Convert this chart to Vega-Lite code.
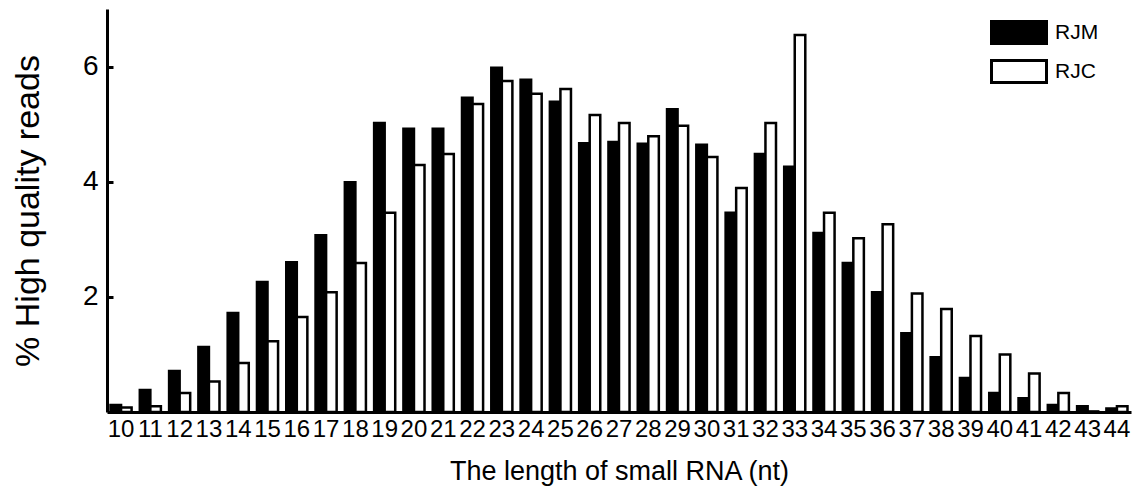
{
  "$schema": "https://vega.github.io/schema/vega-lite/v6.json",
  "autosize": "none",
  "padding": {"left": 107, "top": 9, "right": 1, "bottom": 79},
  "width": 1024,
  "height": 403,
  "background": "white",
  "config": {"view": {"stroke": null}},
  "data": {"values": [
    {"len": "10", "series": "RJM", "value": 0.12}, {"len": "10", "series": "RJC", "value": 0.08},
    {"len": "11", "series": "RJM", "value": 0.38}, {"len": "11", "series": "RJC", "value": 0.10},
    {"len": "12", "series": "RJM", "value": 0.71}, {"len": "12", "series": "RJC", "value": 0.33},
    {"len": "13", "series": "RJM", "value": 1.13}, {"len": "13", "series": "RJC", "value": 0.53},
    {"len": "14", "series": "RJM", "value": 1.72}, {"len": "14", "series": "RJC", "value": 0.85},
    {"len": "15", "series": "RJM", "value": 2.26}, {"len": "15", "series": "RJC", "value": 1.23},
    {"len": "16", "series": "RJM", "value": 2.60}, {"len": "16", "series": "RJC", "value": 1.65},
    {"len": "17", "series": "RJM", "value": 3.07}, {"len": "17", "series": "RJC", "value": 2.08},
    {"len": "18", "series": "RJM", "value": 3.99}, {"len": "18", "series": "RJC", "value": 2.59},
    {"len": "19", "series": "RJM", "value": 5.02}, {"len": "19", "series": "RJC", "value": 3.46},
    {"len": "20", "series": "RJM", "value": 4.92}, {"len": "20", "series": "RJC", "value": 4.29},
    {"len": "21", "series": "RJM", "value": 4.92}, {"len": "21", "series": "RJC", "value": 4.48},
    {"len": "22", "series": "RJM", "value": 5.46}, {"len": "22", "series": "RJC", "value": 5.35},
    {"len": "23", "series": "RJM", "value": 5.98}, {"len": "23", "series": "RJC", "value": 5.75},
    {"len": "24", "series": "RJM", "value": 5.77}, {"len": "24", "series": "RJC", "value": 5.53},
    {"len": "25", "series": "RJM", "value": 5.39}, {"len": "25", "series": "RJC", "value": 5.61},
    {"len": "26", "series": "RJM", "value": 4.67}, {"len": "26", "series": "RJC", "value": 5.16},
    {"len": "27", "series": "RJM", "value": 4.69}, {"len": "27", "series": "RJC", "value": 5.02},
    {"len": "28", "series": "RJM", "value": 4.66}, {"len": "28", "series": "RJC", "value": 4.79},
    {"len": "29", "series": "RJM", "value": 5.26}, {"len": "29", "series": "RJC", "value": 4.97},
    {"len": "30", "series": "RJM", "value": 4.64}, {"len": "30", "series": "RJC", "value": 4.43},
    {"len": "31", "series": "RJM", "value": 3.46}, {"len": "31", "series": "RJC", "value": 3.89},
    {"len": "32", "series": "RJM", "value": 4.48}, {"len": "32", "series": "RJC", "value": 5.02},
    {"len": "33", "series": "RJM", "value": 4.26}, {"len": "33", "series": "RJC", "value": 6.55},
    {"len": "34", "series": "RJM", "value": 3.11}, {"len": "34", "series": "RJC", "value": 3.46},
    {"len": "35", "series": "RJM", "value": 2.59}, {"len": "35", "series": "RJC", "value": 3.02},
    {"len": "36", "series": "RJM", "value": 2.08}, {"len": "36", "series": "RJC", "value": 3.26},
    {"len": "37", "series": "RJM", "value": 1.37}, {"len": "37", "series": "RJC", "value": 2.06},
    {"len": "38", "series": "RJM", "value": 0.95}, {"len": "38", "series": "RJC", "value": 1.79},
    {"len": "39", "series": "RJM", "value": 0.59}, {"len": "39", "series": "RJC", "value": 1.32},
    {"len": "40", "series": "RJM", "value": 0.33}, {"len": "40", "series": "RJC", "value": 1.00},
    {"len": "41", "series": "RJM", "value": 0.24}, {"len": "41", "series": "RJC", "value": 0.67},
    {"len": "42", "series": "RJM", "value": 0.12}, {"len": "42", "series": "RJC", "value": 0.33},
    {"len": "43", "series": "RJM", "value": 0.10}, {"len": "43", "series": "RJC", "value": 0.01},
    {"len": "44", "series": "RJM", "value": 0.06}, {"len": "44", "series": "RJC", "value": 0.10}
  ]},
  "mark": {"type": "bar", "stroke": "black", "strokeWidth": 2.5, "strokeJoin": "miter"},
  "encoding": {
    "x": {
      "field": "len", "type": "nominal", "sort": null,
      "scale": {"paddingInner": 0.28, "paddingOuter": 0.12},
      "axis": {
        "title": "The length of small RNA (nt)",
        "titleFont": "Liberation Sans", "titleFontSize": 27, "titleFontWeight": "normal", "titleColor": "black", "titlePadding": 17,
        "labelFont": "Liberation Sans", "labelFontSize": 24, "labelColor": "black",
        "labelAngle": 0, "labelPadding": 5, "labelOverlap": false, "labelFlush": false,
        "ticks": false, "domainColor": "black", "domainWidth": 3, "grid": false
      }
    },
    "xOffset": {"field": "series", "type": "nominal", "sort": ["RJM", "RJC"], "scale": {"paddingInner": 0, "paddingOuter": 0}},
    "y": {
      "field": "value", "type": "quantitative",
      "scale": {"domain": [0, 7], "nice": false, "zero": true},
      "axis": {
        "title": "% High quality reads",
        "titleFont": "Liberation Sans", "titleFontSize": 34, "titleFontWeight": "normal", "titleColor": "black", "titlePadding": 37,
        "values": [2, 4, 6], "format": "d",
        "labelFont": "Liberation Sans", "labelFontSize": 28, "labelColor": "black", "labelPadding": 15,
        "tickSize": -6, "tickWidth": 3, "tickColor": "black",
        "domainColor": "black", "domainWidth": 3, "grid": false
      }
    },
    "color": {
      "field": "series", "type": "nominal",
      "scale": {"domain": ["RJM", "RJC"], "range": ["black", "white"]},
      "legend": {
        "title": null, "orient": "none", "legendX": 899.5, "legendY": 11, "padding": 0,
        "symbolType": "M-2.5,-1H2.5V1H-2.5Z", "symbolSize": 484, "symbolStrokeColor": "black", "symbolStrokeWidth": 3,
        "labelFont": "Liberation Sans", "labelFontSize": 21, "labelColor": "black",
        "labelOffset": 23.5, "rowPadding": 4,
        "symbolOpacity": 1,
        "encode": {"symbols": {"update": {"stroke": {"value": "black"}, "strokeWidth": {"value": 3}, "opacity": {"value": 1}}}}
      }
    }
  }
}
